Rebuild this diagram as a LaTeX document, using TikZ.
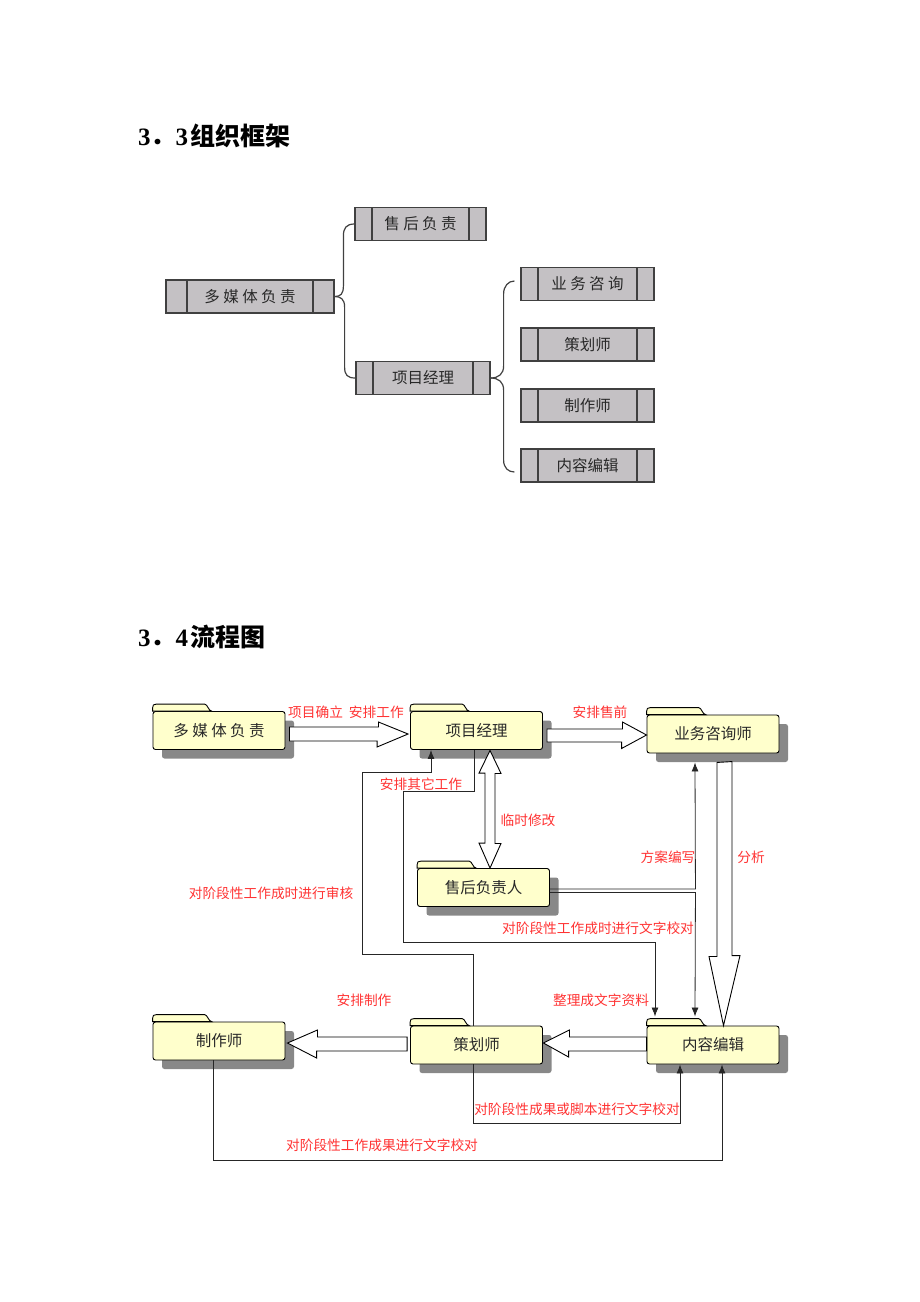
\documentclass[tikz,border=0pt]{standalone}
\usepackage{fontspec}
\setmainfont{Liberation Serif}
\newfontfamily\cjk{Noto Sans CJK SC}
\usetikzlibrary{arrows.meta, shadows}

\definecolor{orgfill}{RGB}{196,193,196}
\definecolor{orgline}{RGB}{64,64,64}
\definecolor{foldfill}{RGB}{255,255,204}
\definecolor{shadowgray}{RGB}{136,136,136}
\definecolor{labelred}{RGB}{255,51,51}
\definecolor{textgray}{RGB}{40,40,40}

\tikzset{
  orgbox/.style={draw=orgline, line width=1.2pt, fill=orgfill, minimum width=133pt, minimum height=33pt,
    inner sep=0pt, text=textgray, font=\cjk\fontsize{15.5}{18}\selectfont,
    path picture={
      \draw[orgline, line width=1.2pt] ([xshift=#1]path picture bounding box.north west) -- ([xshift=#1]path picture bounding box.south west);
      \draw[orgline, line width=1.2pt] ([xshift=-#1]path picture bounding box.north east) -- ([xshift=-#1]path picture bounding box.south east);
    }},
  orgbox/.default=17pt,
  brace/.style={draw=orgline, line width=1.2pt},
  folder/.style={draw=black, line width=0.9pt, fill=foldfill, rounded corners=2.5pt, minimum width=132pt,
    minimum height=38pt, inner sep=0pt, text=textgray, font=\cjk\fontsize{15.5}{18}\selectfont,
    drop shadow={shadow xshift=9pt, shadow yshift=-9pt, opacity=1, fill=shadowgray}},
  tab/.style={draw=black, line width=0.9pt, fill=foldfill},
  hollow/.style={draw=black, line width=0.9pt, fill=white, line join=miter},
  flowline/.style={draw=black!85, line width=0.8pt, -{Latex[length=9pt,width=7pt]}},
  redlabel/.style={text=labelred, inner sep=0pt, font=\cjk\fontsize{13.7}{16}\selectfont},
  title/.style={anchor=west, inner sep=0pt, font=\fontsize{25}{30}\selectfont}
}

\begin{document}
\begin{tikzpicture}[x=1pt, y=-1pt]
  \useasboundingbox (0,0) rectangle (920,1302);

  % titles
  \node[title] (T1) at (138,136) {\textbf{3}{\cjk\bfseries ．}\textbf{3}\hspace{2pt}{\cjk\bfseries 组织框架}};
  \node[title] (T2) at (138,637) {\textbf{3}{\cjk\bfseries ．}\textbf{4}\hspace{2pt}{\cjk\bfseries 流程图}};

  % organisation
  \node[orgbox=21pt, minimum width=168pt] (MM) at (250,296.5) {多 媒 体 负 责};
  \node[orgbox, minimum width=131pt]      (SH) at (420.5,224)  {售 后 负 责};
  \node[orgbox, minimum width=134pt]      (PM) at (423,378)    {项目经理};
  \node[orgbox] (YW) at (587.5,284)   {业 务 咨 询};
  \node[orgbox] (CH) at (587.5,344.5) {策划师};
  \node[orgbox] (ZZ) at (587.5,405.5) {制作师};
  \node[orgbox] (NR) at (587.5,465.5) {内容编辑};

  \draw[brace] (SH.west) .. controls +(-8,0) and +(0,-8) .. ++(-11,12) -- ++(0,50) .. controls +(0,8) and +(6,0) .. (MM.east);
  \draw[brace] (MM.east) .. controls +(6,0) and +(0,-8) .. ++(10,10.5) -- ++(0,60) .. controls +(0,8) and +(-8,0) .. (PM.west);
  \draw[brace] (PM.east) .. controls +(8,0) and +(0,8) .. ++(13,-12) -- ++(0,-72) .. controls +(0,-8) and +(-6,0) .. ([shift={(-6,-3)}]YW.west);
  \draw[brace] (PM.east) .. controls +(8,0) and +(0,-8) .. ++(13,12) -- ++(0,70) .. controls +(0,8) and +(-6,0) .. ([shift={(-6,6.5)}]NR.west);

  % flow chart
  \node[folder] (fMM) at (219,730.5)   {多 媒 体 负 责};
  \node[folder] (fPM) at (476.5,730.5) {项目经理};
  \node[folder] (fYW) at (713,734)     {业务咨询师};
  \node[folder] (fSH) at (483.5,887.5) {售后负责人};
  \node[folder] (fZZ) at (219,1041)    {制作师};
  \node[folder] (fCH) at (476.5,1045)  {策划师};
  \node[folder] (fNR) at (713,1045)    {内容编辑};

  \foreach \n in {fMM,fPM,fYW,fSH,fZZ,fCH,fNR}
    \draw[tab] (\n.north west) -- ++(0,-3) .. controls +(0,-3) and +(-3,0) .. ++(4,-4) -- ++(48,0)
      .. controls +(3,0) and +(-3,0) .. ++(7,7) -- cycle;

  \draw[hollow] ([shift={(4,-3.5)}]fMM.east) -- ++(89,0) -- ++(0,-5) -- ([shift={(-2,3.5)}]fPM.west)
    -- ++(-31,13) -- ++(0,-6) -- ([shift={(4,10.5)}]fMM.east) -- cycle;
  \draw[hollow] ([shift={(4,-1.5)}]fPM.east) -- ++(75.5,0) -- ++(0,-7) -- ([shift={(0,1)}]fYW.west)
    -- ++(-25,13.5) -- ++(0,-6.5) -- ([shift={(4,11.5)}]fPM.east) -- cycle;
  \draw[hollow] ([shift={(13.5,0.5)}]fPM.south) -- ++(11,23) -- ++(-6,0) -- ++(0,70) -- ++(6,0)
    -- ([shift={(6.5,0)}]fSH.north) -- ++(-11,-25) -- ++(6,0) -- ++(0,-70) -- ++(-6,0) -- cycle;
  \draw[hollow] ([shift={(4,9)}]fYW.south) -- ++(0,194) -- ++(-8,0) -- ([shift={(10.5,0)}]fNR.north)
    -- ++(16.5,-70) -- ++(-8,0) -- ++(0,-194) -- cycle;
  \draw[hollow] ([shift={(0.5,-2)}]fCH.east) -- ++(26,-13) -- ++(0,7) -- ([shift={(0,-8)}]fNR.west)
    -- ([shift={(0,6)}]fNR.west) -- ++(-78,0) -- ++(0,6) -- cycle;
  \draw[hollow] ([shift={(2,2)}]fZZ.east) -- ++(30,-13) -- ++(0,7) -- ([shift={(-3,-8)}]fCH.west)
    -- ([shift={(-3,6)}]fCH.west) -- ++(-90.5,0) -- ++(0,7) -- cycle;

  \draw[flowline] ([xshift=-3.5]fCH.north) -- ++(0,-71) -- ++(-111,0) -- ++(0,-182) -- ++(69,0) -- ([xshift=-45.5]fPM.south);
  \draw[flowline] ([xshift=-2.5]fPM.south) -- ++(0,41.5) -- ++(-71,0) -- ++(0,151) -- ++(252,0) -- ([shift={(-58,-9)}]fNR.north);
  \draw[flowline] ([shift={(0,1.5)}]fSH.east) -- ++(145.5,0) -- ([shift={(-18,9)}]fYW.south);
  \draw[flowline] ([shift={(0,5)}]fSH.east) -- ++(145.5,0) -- ([shift={(-18,-9)}]fNR.north);
  \draw[flowline] ([xshift=-3.5]fCH.south) -- ++(0,59) -- ++(207,0) -- ([xshift=-33]fNR.south);
  \draw[flowline] ([xshift=-6]fZZ.south) -- ++(0,100) -- ++(509,0) -- ([xshift=9]fNR.south);

  % labels
  \node[redlabel] (lQL) at (346,712)  {项目确立\hspace{6pt}安排工作};
  \node[redlabel] (lSQ) at (600,712)  {安排售前};
  \node[redlabel] (lQT) at (421,784)  {安排其它工作};
  \node[redlabel] (lLS) at (528,820)  {临时修改};
  \node[redlabel] (lFA) at (668,857)  {方案编写};
  \node[redlabel] (lFX) at (751,857)  {分析};
  \node[redlabel] (lSH) at (271,893)  {对阶段性工作成时进行审核};
  \node[redlabel] (lJD) at (598,928)  {对阶段性工作成时进行文字校对};
  \node[redlabel] (lZZ) at (364,1000) {安排制作};
  \node[redlabel] (lZL) at (601,1000) {整理成文字资料};
  \node[redlabel] (lJB) at (577,1109) {对阶段性成果或脚本进行文字校对};
  \node[redlabel] (lCG) at (382,1145) {对阶段性工作成果进行文字校对};
\end{tikzpicture}
\end{document}
